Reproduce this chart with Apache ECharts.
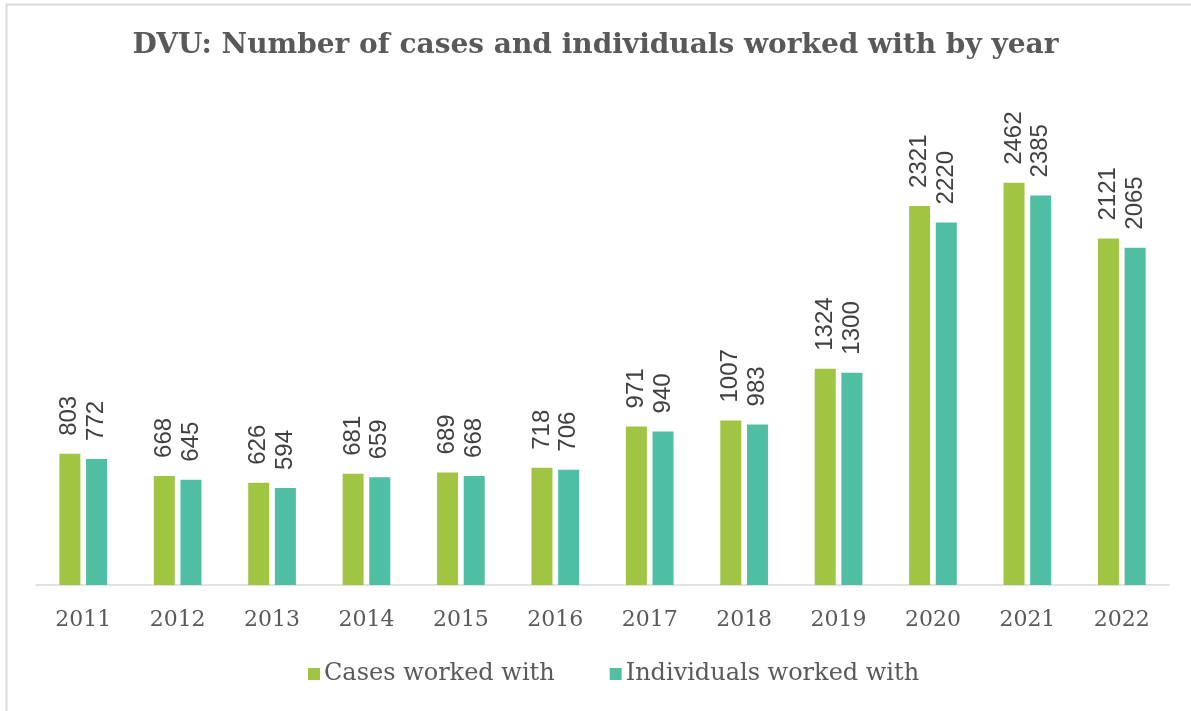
<!DOCTYPE html>
<html>
<head>
<meta charset="utf-8">
<script src="https://cdn.jsdelivr.net/npm/echarts@6/dist/echarts.min.js"></script>
<style>
html,body{margin:0;padding:0;background:#fff;}
#chart{width:1191px;height:711px;}
</style>
</head>
<body>
<div id="chart"></div>
<script>
const years = ['2011','2012','2013','2014','2015','2016','2017','2018','2019','2020','2021','2022'];
const casesWorked = [803, 668, 626, 681, 689, 718, 971, 1007, 1324, 2321, 2462, 2121];
const individualsWorked = [772, 645, 594, 659, 668, 706, 940, 983, 1300, 2220, 2385, 2065];
const seriesNames = ['Cases worked with', 'Individuals worked with'];
const titleText = 'DVU: Number of cases and individuals worked with by year';

const chart = echarts.init(document.getElementById('chart'));
const serif = '"DejaVu Serif", serif';
const labelStyle = {
  show: true,
  position: 'top',
  rotate: 90,
  align: 'left',
  verticalAlign: 'middle',
  distance: 18,
  fontFamily: '"Liberation Sans", Arial, sans-serif',
  fontSize: 24,
  color: '#404040'
};
chart.setOption({
  backgroundColor: '#fff',
  animation: false,
  graphic: [{
    type: 'rect',
    shape: { x: 6.5, y: 4.5, width: 1300, height: 800 },
    style: { fill: 'none', stroke: '#d9d9d9', lineWidth: 2 },
    silent: true
  }],
  title: {
    text: titleText,
    left: 'center',
    top: 27,
    textStyle: { fontFamily: serif, fontWeight: 'bold', fontSize: 28, color: '#595959' }
  },
  legend: {
    bottom: 20,
    left: 303,
    itemWidth: 12,
    itemHeight: 12,
    itemGap: 55,
    icon: 'rect',
    textStyle: { fontFamily: serif, fontSize: 24, color: '#595959', padding: [0, 0, 0, -1] },
    data: seriesNames
  },
  grid: { left: 36, right: 22, top: 95, bottom: 126, containLabel: false },
  xAxis: {
    type: 'category',
    data: years,
    axisLine: { lineStyle: { color: '#d9d9d9', width: 1.5 } },
    axisTick: { show: false },
    axisLabel: { fontFamily: serif, fontSize: 22, color: '#595959', margin: 24 }
  },
  yAxis: {
    type: 'value',
    min: 0,
    max: 3000,
    show: false,
    splitLine: { show: false }
  },
  series: [
    {
      name: seriesNames[0],
      type: 'bar',
      data: casesWorked,
      barWidth: 21,
      barGap: '27%',
      itemStyle: { color: '#9fc543' },
      label: labelStyle
    },
    {
      name: seriesNames[1],
      type: 'bar',
      data: individualsWorked,
      barWidth: 21,
      itemStyle: { color: '#4fbea3' },
      label: labelStyle
    }
  ]
});
</script>
</body>
</html>
